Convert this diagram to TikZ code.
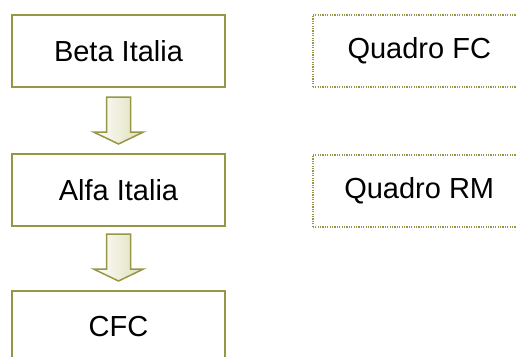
\documentclass[tikz,border=0pt]{standalone}
\usepackage{fontspec}
\setmainfont{Liberation Sans}
\usetikzlibrary{calc}
\definecolor{olivebd}{RGB}{150,150,70}
\definecolor{arrowfill}{RGB}{222,222,185}
\begin{document}
\begin{tikzpicture}[x=1pt,y=-1pt,
 solidbox/.style={draw=olivebd,line width=2pt,minimum width=213pt,minimum height=72pt,inner sep=0pt,font=\fontsize{29}{34}\selectfont,anchor=north west},
 dotbox/.style={solidbox,line width=1.5pt,dash pattern=on 1.2pt off 1.2pt},
 blockarrow/.style={draw=olivebd,line width=1.5pt,left color=white,right color=arrowfill,line join=miter}]
\useasboundingbox (0,0) rectangle (516,356);
\clip (0,0) rectangle (516,356);
\node[solidbox] (b1) at (11,14) {Beta Italia};
\node[solidbox] (b2) at (11,153) {Alfa Italia};
\node[solidbox] (b3) at (11,290) {CFC};
\node[dotbox] (q1) at (312,14) {Quadro FC};
\node[dotbox] (q2) at (312,154) {Quadro RM};
\draw[blockarrow] ($(b1.south)+(-12,9)$) -- ($(b1.south)+(12,9)$) -- ($(b2.north)+(12,-21)$) -- ($(b2.north)+(25,-21)$) -- ($(b2.north)+(0,-9)$) -- ($(b2.north)+(-25,-21)$) -- ($(b2.north)+(-12,-21)$) -- cycle;
\draw[blockarrow] ($(b2.south)+(-12,7)$) -- ($(b2.south)+(12,7)$) -- ($(b3.north)+(12,-21)$) -- ($(b3.north)+(25,-21)$) -- ($(b3.north)+(0,-9)$) -- ($(b3.north)+(-25,-21)$) -- ($(b3.north)+(-12,-21)$) -- cycle;
\end{tikzpicture}
\end{document}
